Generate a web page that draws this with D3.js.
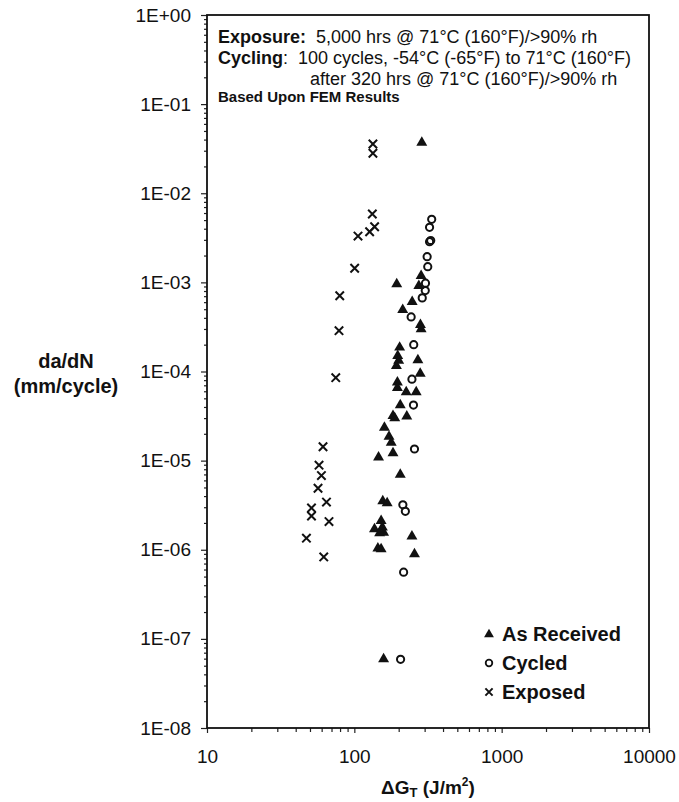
<!DOCTYPE html>
<html><head><meta charset="utf-8">
<script src="https://cdn.jsdelivr.net/npm/d3@7"></script>
<style>
html,body{margin:0;padding:0;background:#fff;}
text{font-family:"Liberation Sans",Arial,sans-serif;fill:#111;}
</style></head>
<body><svg id="c" width="679" height="802"></svg>
<script>
// ---- data ----
const xTicks = [10, 100, 1000, 10000];
const xTickLabels = ["10", "100", "1000", "10000"];
const yTicks = [1e0,1e-1,1e-2,1e-3,1e-4,1e-5,1e-6,1e-7,1e-8];
const yTickLabels = ["1E+00","1E-01","1E-02","1E-03","1E-04","1E-05","1E-06","1E-07","1E-08"];

// As Received: [ΔGT, da/dN]
const asReceived = [
 [287,3.79e-2],[284,1.21e-3],[194,9.77e-4],[274,9.35e-4],[247,6.18e-4],[213,5.02e-4],
 [281,3.41e-4],[284,3.05e-4],[203,1.90e-4],[197,1.53e-4],[200,1.35e-4],[193,1.18e-4],
 [270,1.37e-4],[280,9.7e-5],[196,7.7e-5],[196,6.7e-5],[225,6.0e-5],[263,6.0e-5],
 [205,4.3e-5],[183,3.25e-5],[188,3.06e-5],[227,3.2e-5],[160,2.4e-5],[172,1.9e-5],
 [178,1.63e-5],[146,1.11e-5],[183,1.24e-5],[205,7.1e-6],[156,3.6e-6],[167,3.4e-6],
 [152,2.16e-6],[137,1.74e-6],[155,1.82e-6],[158,1.59e-6],[148.5,1.57e-6],[246,1.44e-6],
 [144.5,1.06e-6],[152,1.04e-6],[256,9.1e-7],[158,6.05e-8]
];
// Cycled
const cycled = [
 [335,5.1e-3],[324,4.15e-3],[324,2.86e-3],[330,2.95e-3],[312,1.94e-3],[315,1.50e-3],
 [304,9.8e-4],[303,8.1e-4],[289,6.7e-4],[243,4.1e-4],[253,2.0e-4],[246,8.2e-5],
 [252,4.2e-5],[256,1.35e-5],[213.5,3.2e-6],[222,2.7e-6],[216,5.6e-7],[206,5.9e-8]
];
// Exposed
const exposed = [
 [133.7,3.57e-2],[133.7,2.81e-2],[132.5,5.85e-3],[137.3,4.21e-3],[127,3.70e-3],
 [105.9,3.31e-3],[100.5,1.44e-3],[79.6,7.08e-4],[78.7,2.87e-4],[74.8,8.52e-5],
 [61.3,1.43e-5],[57.6,8.9e-6],[59.8,6.8e-6],[56.7,4.9e-6],[64.7,3.43e-6],
 [51.2,2.94e-6],[51.2,2.39e-6],[67.3,2.07e-6],[47.3,1.35e-6],[62.0,8.3e-7]
];
const legendLabels = ["As Received", "Cycled", "Exposed"];
const noteLines = [
 [["Exposure:",true],["  5,000 hrs @ 71°C (160°F)/>90% rh",false]],
 [["Cycling",true],[":  100 cycles, -54°C (-65°F) to 71°C (160°F)",false]],
 [["after 320 hrs @ 71°C (160°F)/>90% rh",false]],
 [["Based Upon FEM Results",true]]
];

// ---- drawing ----
const svg = d3.select("#c");
const L=207, R=649, T=15, B=728;
const x = d3.scaleLog().domain([10,10000]).range([L,R]);
const y = d3.scaleLog().domain([1e-8,1]).range([B,T]);

// minor ticks
const xMinor=[], yMinor=[];
for (let e=1;e<4;e++) for (let k=2;k<10;k++) xMinor.push(k*Math.pow(10,e));
for (let e=-8;e<0;e++) for (let k=2;k<10;k++) yMinor.push(k*Math.pow(10,e));

const xAxis = svg.append("g").attr("transform",`translate(0,${B})`)
  .call(d3.axisBottom(x).tickValues(xTicks).tickFormat((d,i)=>xTickLabels[i]).tickSize(5).tickPadding(17));
const xAxisMinor = svg.append("g").attr("transform",`translate(0,${B})`)
  .call(d3.axisBottom(x).tickValues(xMinor).tickFormat("").tickSize(4));
const yAxis = svg.append("g").attr("transform",`translate(${L},0)`)
  .call(d3.axisLeft(y).tickValues(yTicks).tickFormat((d,i)=>yTickLabels[i]).tickSize(6).tickPadding(10));
const yAxisMinor = svg.append("g").attr("transform",`translate(${L},0)`)
  .call(d3.axisLeft(y).tickValues(yMinor).tickFormat("").tickSize(3));
[xAxis,xAxisMinor,yAxis,yAxisMinor].forEach(g=>{
  g.select(".domain").remove();
  g.selectAll("line").attr("stroke","#222").attr("stroke-width",1.2);
  g.selectAll("text").attr("font-size",19).attr("fill","#111");
});

// frame
svg.append("rect").attr("x",L).attr("y",T).attr("width",R-L).attr("height",B-T)
  .attr("fill","none").attr("stroke","#111").attr("stroke-width",1.8);

// markers
const tri = d3.symbol().type(d3.symbolTriangle).size(52);
const plot = svg.append("g");
plot.selectAll(".tri").data(asReceived).join("path")
  .attr("d",tri).attr("transform",d=>`translate(${x(d[0])},${y(d[1])+0.8})`).attr("fill","#111");
plot.selectAll(".cir").data(cycled).join("circle")
  .attr("cx",d=>x(d[0])).attr("cy",d=>y(d[1])).attr("r",3.6)
  .attr("fill","none").attr("stroke","#111").attr("stroke-width",2);
const cross = (g, cx, cy, s) => {
  g.append("path").attr("d",`M${cx-s},${cy-s}L${cx+s},${cy+s}M${cx-s},${cy+s}L${cx+s},${cy-s}`)
   .attr("stroke","#111").attr("stroke-width",2).attr("fill","none");
};
exposed.forEach(d=>cross(plot, x(d[0]), y(d[1]), 4.2));

// annotation text
const noteY=[43,64,85,102];
const noteX=[218,218,310,218];
const noteSize=[18,18,18,15];
noteLines.forEach((parts,i)=>{
  const t = svg.append("text").attr("x",noteX[i]).attr("y",noteY[i]).attr("font-size",noteSize[i])
    .attr("xml:space","preserve").style("white-space","pre");
  parts.forEach(p=>t.append("tspan").text(p[0]).attr("font-weight",p[1]?"bold":"normal"));
});

// legend
const lgX=489, lgY=[634,663,692];
svg.append("path").attr("d",tri.size(42)).attr("transform",`translate(${lgX},${lgY[0]+0.5})`).attr("fill","#111");
svg.append("circle").attr("cx",lgX).attr("cy",lgY[1]).attr("r",3.3).attr("fill","none").attr("stroke","#111").attr("stroke-width",1.8);
cross(svg, lgX, lgY[2], 3.6);
legendLabels.forEach((s,i)=>{
  svg.append("text").attr("x",502).attr("y",lgY[i]+7).attr("font-size",20).attr("font-weight","bold").text(s);
});

// axis titles
const xt = svg.append("text").attr("x",(L+R)/2).attr("y",794).attr("text-anchor","middle")
  .attr("font-size",19).attr("font-weight","bold");
xt.append("tspan").text("ΔG");
xt.append("tspan").text("T").attr("font-size",13).attr("dy",3);
xt.append("tspan").text(" (J/m").attr("dy",-3);
xt.append("tspan").text("2").attr("font-size",12).attr("dy",-8);
xt.append("tspan").text(")").attr("dy",8);

svg.append("text").attr("x",66).attr("y",368).attr("text-anchor","middle")
  .attr("font-size",20).attr("font-weight","bold").text("da/dN");
svg.append("text").attr("x",66).attr("y",393).attr("text-anchor","middle")
  .attr("font-size",20).attr("font-weight","bold").text("(mm/cycle)");
</script>
</body></html>
